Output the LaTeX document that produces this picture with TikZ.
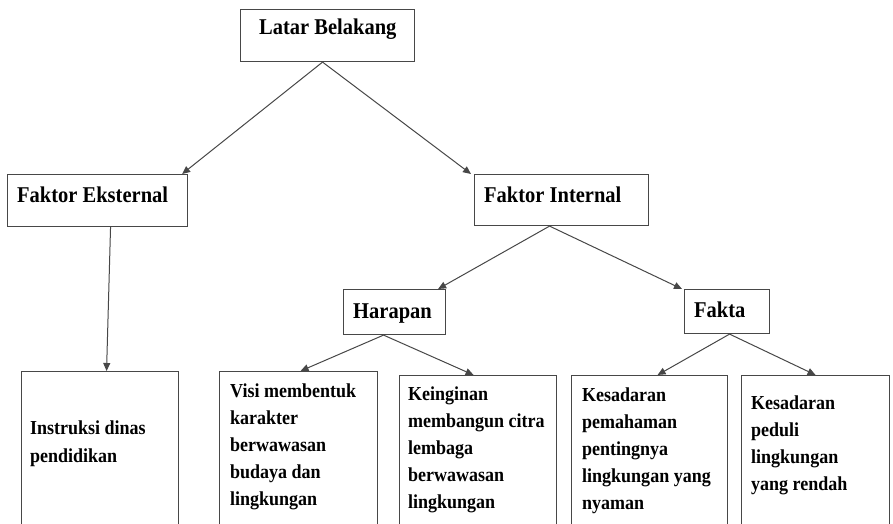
\documentclass[tikz,border=0pt]{standalone}
\usepackage{graphicx}
\usepackage{fontspec}
\setmainfont{Liberation Serif}
\usetikzlibrary{arrows.meta,calc}
\newcommand\vst[1]{\scalebox{1}[1.1]{#1}}
\begin{document}
\begin{tikzpicture}[x=1pt,y=-1pt,
  boxline/.style={draw=black!72,line width=1.1pt},
  topbox/.style={boxline,rectangle,inner sep=0pt,anchor=north west},
  lbl/.style={anchor=base west,inner sep=0pt,font=\fontsize{20.5}{24}\selectfont\bfseries},
  small/.style={anchor=base west,inner sep=0pt,font=\fontsize{18}{27}\selectfont\bfseries},
  conn/.style={draw=black!72,line width=1pt,-{Triangle[length=8pt,width=7pt]}}]
\path[use as bounding box] (0,0) rectangle (893,524);
\clip (0,0) rectangle (893,524);
% boxes
\node[topbox,minimum width=174pt,minimum height=52pt] (latar) at (240,9) {};
\node[topbox,minimum width=180pt,minimum height=52pt] (eks) at (7,174) {};
\node[topbox,minimum width=174pt,minimum height=51pt] (int) at (474,174) {};
\node[topbox,minimum width=102pt,minimum height=45pt] (har) at (343,289) {};
\node[topbox,minimum width=85pt,minimum height=44pt] (fakta) at (684,289) {};
\node[topbox,minimum width=157pt,minimum height=170pt] (instr) at (21,371) {};
\node[topbox,minimum width=158pt,minimum height=170pt] (visi) at (219,371) {};
\node[topbox,minimum width=157pt,minimum height=170pt] (kein) at (399,375) {};
\node[topbox,minimum width=156pt,minimum height=170pt] (kpem) at (571,375) {};
\node[topbox,minimum width=148pt,minimum height=170pt] (kped) at (741,375) {};
% labels
\node[lbl] (tlatar) at (259,35) {\vst{Latar Belakang}};
\node[lbl] (teks) at (17,202) {\vst{Faktor Eksternal}};
\node[lbl] (tint) at (484,202) {\vst{Faktor Internal}};
\node[lbl] (thar) at (353,318) {\vst{Harapan}};
\node[lbl] (tfakta) at (694,317) {\vst{Fakta}};
\node[small] (ti1) at (30,434) {\vst{Instruksi dinas}};
\node[small] (ti2) at (30,462) {\vst{pendidikan}};
\node[small] (tv1) at (230,397) {\vst{Visi membentuk}};
\node[small] (tv2) at (230,424) {\vst{karakter}};
\node[small] (tv3) at (230,451) {\vst{berwawasan}};
\node[small] (tv4) at (230,478) {\vst{budaya dan}};
\node[small] (tv5) at (230,505) {\vst{lingkungan}};
\node[small] (tk1) at (408,400) {\vst{Keinginan}};
\node[small] (tk2) at (408,427) {\vst{membangun citra}};
\node[small] (tk3) at (408,454) {\vst{lembaga}};
\node[small] (tk4) at (408,481) {\vst{berwawasan}};
\node[small] (tk5) at (408,508) {\vst{lingkungan}};
\node[small] (tp1) at (582,401) {\vst{Kesadaran}};
\node[small] (tp2) at (582,428) {\vst{pemahaman}};
\node[small] (tp3) at (582,455) {\vst{pentingnya}};
\node[small] (tp4) at (582,482) {\vst{lingkungan yang}};
\node[small] (tp5) at (582,509) {\vst{nyaman}};
\node[small] (tq1) at (751,409) {\vst{Kesadaran}};
\node[small] (tq2) at (751,436) {\vst{peduli}};
\node[small] (tq3) at (751,463) {\vst{lingkungan}};
\node[small] (tq4) at (751,490) {\vst{yang rendah}};
% connectors
\draw[conn] ($(latar.south)+(-5,0)$) -- ($(eks.north east)+(-6,0)$);
\draw[conn] ($(latar.south)+(-5,0)$) -- ($(int.north west)+(-3,0)$);
\draw[conn] ($(eks.south)+(13,0)$) -- ($(instr.north)+(6.5,0)$);
\draw[conn] ($(int.south)+(-12,0)$) -- ($(har.north east)+(-8,0)$);
\draw[conn] ($(int.south)+(-12,0)$) -- ($(fakta.north west)+(-2,0)$);
\draw[conn] ($(har.south)+(-11,0)$) -- ($(visi.north)+(2,0)$);
\draw[conn] ($(har.south)+(-11,0)$) -- ($(kein.north)+(-4.5,0)$);
\draw[conn] ($(fakta.south)+(2.5,0)$) -- ($(kpem.north)+(8,0)$);
\draw[conn] ($(fakta.south)+(2.5,0)$) -- (kped.north);
\end{tikzpicture}
\end{document}
